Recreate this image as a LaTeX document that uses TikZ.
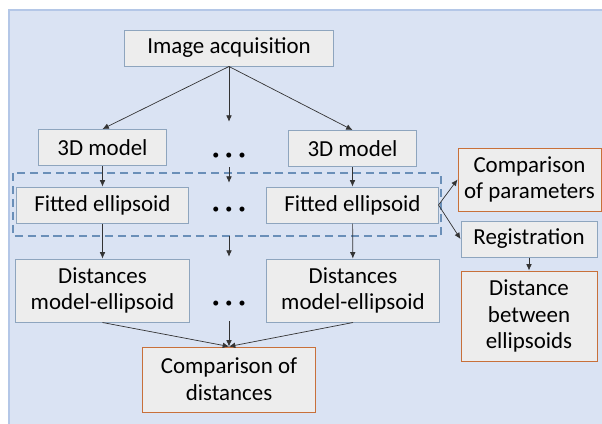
\documentclass[tikz,border=0pt]{standalone}
\usepackage{fontspec}
\setmainfont{Carlito}
\usepackage{tikz}
\usetikzlibrary{arrows.meta, positioning}

\definecolor{bgblue}{HTML}{DAE3F3}
\definecolor{bgline}{HTML}{B4C7E7}
\definecolor{boxfill}{HTML}{EDEDED}
\definecolor{boxline}{HTML}{8EA5BE}
\definecolor{orangeline}{HTML}{C8703A}
\definecolor{dashblue}{HTML}{6A8FB8}
\definecolor{arrowgray}{HTML}{333333}

\newcommand{\dotrow}[1]{\raisebox{#1}[0pt][0pt]{\fontsize{10}{10}\selectfont\textbullet\hspace{4.4pt}\textbullet\hspace{4.4pt}\textbullet}}

\begin{document}
\begin{tikzpicture}[x=0.025cm, y=-0.025cm,
    font=\fontsize{16.3}{19}\selectfont,
    stage/.style={draw=boxline, fill=boxfill, line width=0.7pt, align=center, inner sep=0pt},
    result/.style={stage, draw=orangeline},
    gapbox/.style={minimum width=1cm, inner sep=0pt},
    arr/.style={-{Latex[length=4.5pt, width=4pt]}, draw=arrowgray, line width=0.5pt}]
    \useasboundingbox (0,0) rectangle (602,423);

    % background
    \draw[fill=bgblue, draw=bgline, line width=0.8pt] (9,10) rectangle (640,460);

    % acquisition and models
    \node[stage, minimum width=5.2cm, minimum height=0.9cm] (acq) at (229,48) {Image acquisition};
    \node[stage, minimum width=3.175cm, minimum height=0.9cm] (modelA) at (102.5,147.5) {3D model};
    \node[gapbox, minimum height=1.125cm] (gapA) at (229,144.5) {\dotrow{-10.5pt}};
    \node[stage, minimum width=3.175cm, minimum height=0.9cm] (modelB) at (352.5,148.5) {3D model};

    % fitted ellipsoids
    \draw[dashblue, dashed, dash pattern=on 5.7pt off 3.5pt, line width=0.8pt] (13,173) rectangle (441,236);
    \node[stage, minimum width=4.275cm, minimum height=0.9cm] (fitA) at (102.5,205) {Fitted ellipsoid};
    \node[gapbox, minimum height=1.325cm] (gapB) at (229,209.5) {\dotrow{-2.6pt}};
    \node[stage, minimum width=4.275cm, minimum height=0.9cm] (fitB) at (352.5,205) {Fitted ellipsoid};

    % distances
    \node[stage, minimum width=4.325cm, minimum height=1.575cm] (distA) at (102.5,290.5) {Distances\\model-ellipsoid};
    \node[gapbox, minimum height=1.6cm] (gapC) at (229,289) {\dotrow{-13pt}};
    \node[stage, minimum width=4.325cm, minimum height=1.575cm] (distB) at (353,290.5) {Distances\\model-ellipsoid};
    \node[result, minimum width=4.3cm, minimum height=1.625cm] (compDist) at (229,379.5) {Comparison of\\distances};

    % right branch
    \node[result, minimum width=3.575cm, minimum height=1.575cm] (compPar) at (529.5,179.5) {Comparison\\of parameters};
    \node[stage, minimum width=3.4cm, minimum height=0.9cm] (reg) at (529,239) {Registration};
    \node[result, minimum width=3.4cm, minimum height=2.25cm] (between) at (529,316) {Distance\\between\\ellipsoids};

    % arrows
    \draw[arr] (acq.south) -- (modelA.north);
    \draw[arr] (acq.south) -- (gapA.north);
    \draw[arr] (acq.south) -- (modelB.north);
    \draw[arr] (modelA) -- (fitA);
    \draw[arr] (gapA) -- (gapB);
    \draw[arr] (modelB) -- (fitB);
    \draw[arr] (fitA) -- (distA);
    \draw[arr] (gapB) -- (gapC);
    \draw[arr] (fitB) -- (distB);
    \draw[arr] (distA.south) -- (compDist.north);
    \draw[arr] (gapC.south) -- (compDist.north);
    \draw[arr] (distB.south) -- (compDist.north);
    \draw[arr] (fitB.east) -- (compPar.west);
    \draw[arr] (fitB.east) -- (reg.west);
    \draw[arr] (reg) -- (between);
\end{tikzpicture}
\end{document}
